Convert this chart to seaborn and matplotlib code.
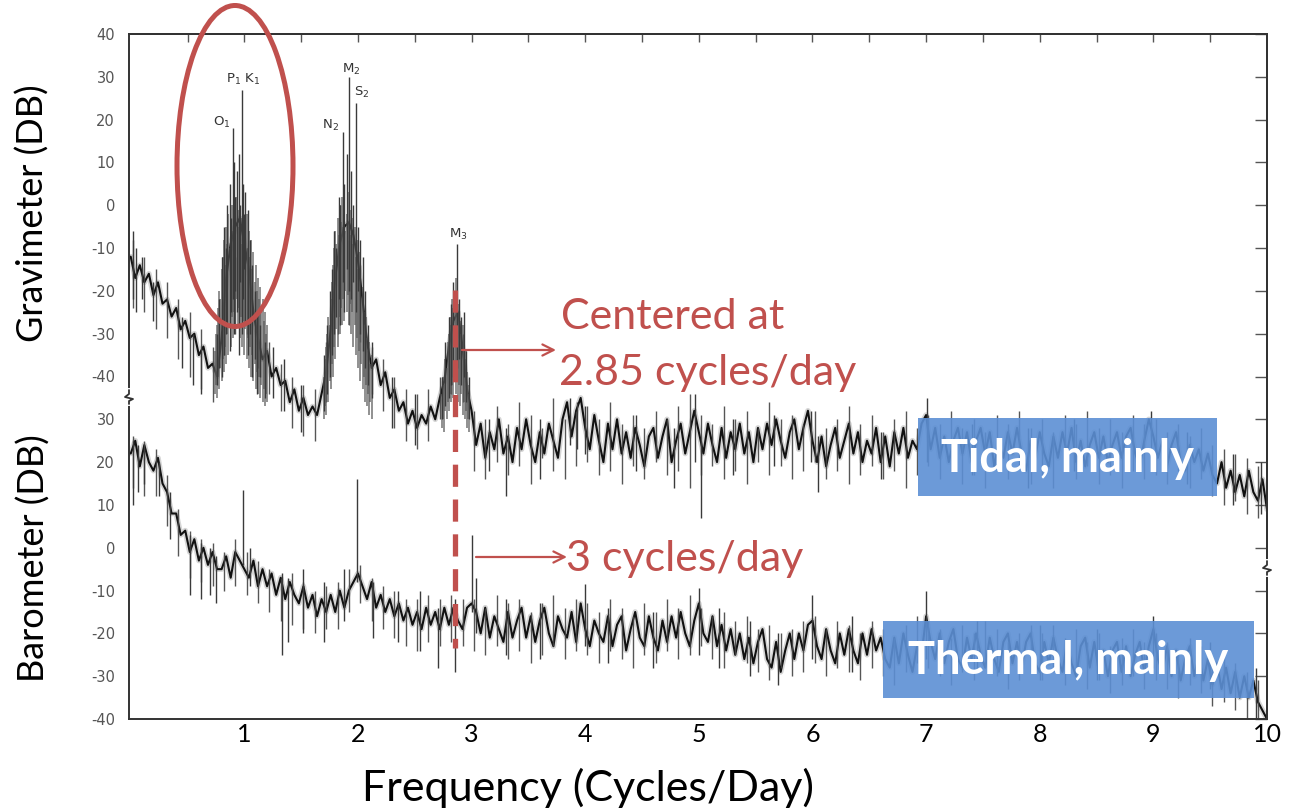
import numpy as np
import pandas as pd
import matplotlib
matplotlib.use("Agg")
import matplotlib.pyplot as plt
from matplotlib.patches import Ellipse, Rectangle
import seaborn as sns

W, H, DPI = 1299, 810, 100

# ---- spectra (dB), sampled every 0.04 cycles/day from 0 to 10 ----
freq_step = 0.04
gravimeter_db = [
    -12, -17, -14, -18, -16, -21, -18, -23, -22, -26,
    -24, -29, -27, -31, -30, -35, -33, -38, -37, -40,
    -31, -17, -9, -5, -3, -9, -15, -25, -31, -36,
    -34, -40, -38, -42, -41, -46, -43, -48, -45, -49,
    -47, -49, -44, -39, -29, -17, -9, -5, -4, -7,
    -13, -22, -32, -38, -36, -42, -39, -45, -43, -48,
    -46, -51, -48, -52, -49, -51, -47, -50, -45, -41,
    -33, -27, -25, -33, -43,
    -48, -56, -51, -59, -53, -57, -50, -58, -54, -60,
    -52, -57, -50, -56, -60, -53, -58, -51, -55, -59,
    -50, -46, -54, -48, -45, -52, -57, -49, -55, -60,
    -51, -57, -50, -58, -53, -59, -52, -56, -61, -54,
    -52, -59, -54, -50, -60, -55, -51, -58, -53, -48,
    -53, -58, -51, -56, -60, -52, -59, -53, -57, -51,
    -58, -53, -60, -52, -57, -51, -56, -50, -55, -59,
    -53, -50, -57, -52, -48, -55, -60, -54, -61, -56,
    -52, -59, -55, -51, -58, -53, -60, -55, -58, -52,
    -60, -54, -61, -53, -58, -52, -59, -55, -57, -51,
    -49, -57, -52, -59, -54, -60, -55, -52, -58, -53,
    -60, -55, -52, -58, -53, -61, -55, -59, -53, -58,
    -52, -58, -62, -55, -59, -53, -58, -61, -54, -59,
    -53, -58, -52, -60, -55, -61, -56, -53, -59, -54,
    -60, -56, -53, -59, -54, -52, -58, -61, -55, -50,
    -54, -59, -55, -61, -56, -53, -60, -62, -56, -60,
    -57, -62, -58, -63, -65, -60, -66, -62, -67, -63,
    -68, -62, -67, -69, -64, -71,
]
barometer_db = [
    22, 25, 19, 24, 20, 18, 21, 15, 13, 8,
    8, 3, 4, -1, 2, -3, 0, -4, -1, -5,
    -5, -2, -7, -1, -3, -5, -7, -3, -9, -5,
    -9, -6, -11, -7, -12, -8, -11, -13, -9, -14,
    -11, -16, -12, -15, -11, -15, -10, -14, -10, -8,
    -6, -9, -12, -8, -14, -11, -15, -12, -16, -13,
    -17, -14, -18, -15, -19, -14, -18, -15, -19, -14,
    -18, -14, -17, -19, -14, -13,
    -15, -20, -14, -21, -16, -19, -22, -15, -21, -17,
    -14, -21, -16, -22, -17, -14, -20, -23, -16, -19,
    -21, -15, -22, -13, -19, -23, -17, -20, -22, -16,
    -23, -18, -16, -24, -19, -15, -21, -23, -16, -21,
    -24, -17, -22, -16, -21, -15, -20, -23, -17, -13,
    -20, -22, -16, -23, -18, -24, -19, -25, -20, -26,
    -21, -27, -22, -19, -26, -28, -22, -29, -24, -20,
    -26, -20, -24, -18, -17, -23, -26, -19, -24, -27,
    -20, -25, -19, -24, -27, -20, -25, -19, -24, -21,
    -26, -28, -21, -27, -20, -25, -29, -23, -25, -16,
    -22, -26, -20, -27, -22, -19, -26, -28, -21, -26,
    -20, -25, -28, -21, -26, -29, -22, -20, -27, -22,
    -28, -22, -20, -27, -29, -22, -27, -21, -26, -29,
    -22, -27, -30, -23, -21, -28, -22, -29, -24, -30,
    -24, -22, -29, -23, -30, -25, -22, -29, -23, -19,
    -26, -29, -23, -30, -24, -31, -26, -23, -30, -25,
    -31, -26, -32, -27, -33, -28, -34, -29, -35, -30,
    -35, -31, -36, -38, -40,
]

# ---- scatter of the recorder trace: one stroke every 0.1 c/d from 0.02 ----
stroke_start, stroke_step = 0.02, 0.1
grav_stroke_lo = [
    -24, -25, -29, -31, -36, -40, -43, -46, -35, -30,
    -30, -38, -44, -48, -52, -54, -55, -46, -30, -28,
    -32, -44, -48, -52, -55, -57, -55, -50, -44, -46,
    -62, -64, -60, -63, -61, -65, -59, -62, -64, -61,
    -60, -63, -62, -65, -61, -64, -60, -63, -62, -66,
    -63, -61, -64, -62, -65, -60, -63, -61, -64, -62,
    -60, -64, -62, -65, -63, -61, -64, -62, -66, -63,
    -61, -64, -62, -65, -63, -66, -62, -64, -61, -65,
    -63, -66, -62, -64, -61, -65, -63, -66, -62, -64,
    -63, -65, -62, -66, -64, -68, -70, -69, -72, -73,
]
grav_stroke_hi = [
    -8, -12, -15, -18, -22, -25, -29, -33, -20, -12,
    -10, -25, -32, -37, -40, -42, -43, -32, -10, -8,
    -14, -33, -36, -40, -43, -44, -43, -40, -28, -30,
    -48, -50, -47, -51, -46, -49, -52, -45, -50, -48,
    -47, -50, -46, -51, -49, -52, -48, -50, -47, -44,
    -49, -51, -47, -50, -48, -52, -46, -50, -49, -51,
    -48, -52, -50, -47, -51, -49, -53, -50, -48, -52,
    -49, -51, -48, -52, -50, -53, -49, -51, -48, -52,
    -50, -53, -49, -51, -48, -52, -50, -53, -49, -51,
    -50, -53, -51, -54, -52, -56, -57, -58, -59, -61,
]
baro_stroke_lo = [
    14, 12, 12, 5, -2, -7, -8, -9, -10, -9,
    -11, -13, -15, -17, -18, -19, -20, -19, -19, -15,
    -13, -17, -19, -21, -23, -24, -22, -23, -22, -23,
    -24, -25, -23, -26, -24, -27, -25, -23, -26, -24,
    -25, -27, -24, -26, -28, -25, -27, -24, -26, -25,
    -23, -26, -28, -25, -27, -29, -31, -28, -30, -29,
    -27, -30, -28, -29, -31, -28, -30, -32, -29, -27,
    -28, -30, -32, -29, -31, -28, -30, -33, -31, -29,
    -31, -29, -32, -30, -33, -31, -34, -32, -30, -33,
    -31, -33, -35, -32, -34, -37, -36, -38, -40, -41,
]
baro_stroke_hi = [
    26, 25, 23, 17, 9, 4, 2, 1, -1, 2,
    -1, -3, -5, -7, -6, -8, -10, -9, -8, -5,
    -4, -7, -9, -10, -12, -12, -11, -12, -11, -12,
    -12, -14, -11, -13, -12, -15, -13, -11, -14, -12,
    -13, -15, -12, -14, -16, -13, -15, -12, -14, -11,
    -14, -16, -15, -17, -16, -19, -18, -20, -19, -17,
    -16, -19, -17, -18, -20, -17, -19, -21, -18, -16,
    -17, -19, -21, -18, -20, -17, -19, -22, -20, -18,
    -20, -18, -21, -19, -22, -20, -23, -21, -19, -22,
    -20, -22, -24, -21, -23, -26, -25, -27, -29, -31,
]

# ---- individual spectral spikes: frequency, lower dB, upper dB ----
grav_spike_freq = [0.02, 0.05, 0.10, 0.20, 0.45, 0.55, 0.62,
                   0.76, 0.78, 0.80, 0.82, 0.84, 0.85, 0.87, 0.88, 0.903, 0.91, 0.92,
                   0.935, 0.95, 0.965, 0.977, 0.99, 1.00, 1.01, 1.03, 1.05, 1.07,
                   1.09, 1.11, 1.14, 1.18, 1.25, 1.35, 1.50,
                   1.70, 1.73, 1.75, 1.77, 1.79, 1.81, 1.83, 1.845, 1.866, 1.88,
                   1.90, 1.919, 1.94, 1.96, 1.983, 2.00, 2.02, 2.04, 2.06, 2.09, 2.12,
                   2.30, 2.50,
                   2.74, 2.77, 2.80, 2.82, 2.84, 2.87, 2.89, 2.91, 2.93, 2.95, 2.98,
                   3.15, 3.30, 3.60, 3.87, 3.93, 4.00, 4.45, 4.78, 4.97, 5.02, 5.30,
                   5.66, 5.99, 6.05, 6.60, 7.01, 7.40, 7.90, 8.30, 8.98, 9.30, 9.70, 9.95]
grav_spike_lo = [-22, -25, -22, -27, -38, -42, -44,
                 -42, -38, -40, -35, -30, -28, -34, -25, -22, -30, -20,
                 -25, -35, -18, -30, -22, -15, -28, -35, -30, -40,
                 -36, -44, -40, -45, -45, -48, -53,
                 -48, -44, -40, -35, -30, -26, -22, -28, -18, -25,
                 -15, -20, -22, -18, -25, -20, -30, -34, -38, -42, -45,
                 -52, -56,
                 -50, -47, -45, -42, -40, -38, -36, -42, -40, -46, -50,
                 -62, -68, -64, -56, -57, -58, -62, -66, -60, -73, -63,
                 -61, -60, -67, -64, -60, -63, -66, -62, -62, -65, -70, -72]
grav_spike_hi = [-6, -10, -12, -18, -26, -30, -34,
                 -30, -22, -12, -5, -10, 0, 5, -3, 18, 10, 2,
                 8, 12, 0, 27, 5, -2, 3, -1, -8, -14,
                 -20, -25, -28, -32, -33, -36, -42,
                 -35, -28, -20, -15, -6, -10, 2, 0, 17, 5,
                 12, 30, 8, 0, 24, -5, -8, -12, -20, -28, -32,
                 -40, -44,
                 -40, -32, -26, -23, -18, -9, -22, -26, -25, -34, -40,
                 -50, -52, -50, -45, -46, -47, -49, -52, -44, -55, -50,
                 -49, -48, -54, -53, -45, -51, -52, -50, -48, -53, -58, -60]

# dense line texture inside the three tidal bands (one stroke every 0.01 c/d)
band_step = 0.01
diurnal_start, semidiurnal_start, terdiurnal_start = 0.74, 1.70, 2.74
diurnal_hi = [-34, -30, -28, -24, -20, -22, -15, -12, -8, -14,
              -5, -9, -2, -10, -4, 0, -6, -3, -8, 2,
              -5, -1, -7, -3, -9, 1, -4, -8, -2, -10,
              -6, -12, -8, -15, -11, -18, -14, -20, -17, -22,
              -19, -25, -22, -27, -25, -30, -28]
diurnal_lo = [-44, -42, -45, -40, -43, -38, -41, -36, -39, -33,
              -37, -30, -35, -28, -33, -26, -31, -25, -30, -22,
              -28, -24, -31, -26, -33, -27, -35, -29, -36, -31,
              -38, -33, -40, -35, -41, -37, -43, -39, -44, -40,
              -45, -42, -46, -43, -47, -44, -46]
semidiurnal_hi = [-40, -36, -33, -30, -26, -28, -22, -18, -14, -10,
                  -6, -9, -3, -7, 0, -4, 2, -5, -1, -6,
                  -2, 3, -4, -1, -7, -3, -9, -5, -12, -8,
                  -15, -11, -18, -22, -19, -25, -28, -26, -31, -34,
                  -32, -37, -35]
semidiurnal_lo = [-50, -47, -49, -44, -46, -41, -43, -37, -40, -33,
                  -36, -29, -33, -26, -30, -24, -28, -22, -27, -20,
                  -25, -21, -28, -23, -30, -25, -33, -28, -35, -31,
                  -38, -34, -41, -37, -43, -40, -46, -42, -47, -44,
                  -49, -46, -50]
terdiurnal_hi = [-44, -40, -42, -36, -38, -32, -30, -26, -28, -22,
                 -24, -20, -17, -21, -25, -23, -27, -30, -28, -33,
                 -36, -34, -39, -42, -44]
terdiurnal_lo = [-52, -50, -53, -48, -50, -46, -48, -44, -46, -42,
                 -45, -41, -44, -40, -46, -42, -47, -44, -49, -46,
                 -50, -48, -52, -50, -53]

baro_spike_freq = [0.02, 0.06, 0.12, 0.25, 0.35, 0.52, 0.62, 0.70, 0.75,
                   0.985, 1.05, 1.33, 1.38, 1.52, 1.70, 1.88, 1.99, 2.13, 2.35,
                   2.55, 2.70, 2.85, 3.00, 3.04, 3.30, 3.60, 4.00, 4.20, 4.60,
                   5.00, 5.18, 5.45, 5.70, 6.00, 6.35, 7.00, 7.45, 8.00, 8.50,
                   9.00, 9.50, 9.90]
baro_spike_lo = [10, 13, 15, 12, 2, -11, -12, -11, -13,
                 -4, -9, -25, -22, -20, -22, -17, -8, -21, -22,
                 -24, -28, -29, -15, -20, -25, -26, -23, -27, -28,
                 -25, -28, -30, -32, -26, -29, -26, -29, -31, -31,
                 -28, -33, -40]
baro_spike_hi = [25, 24, 23, 20, 13, 3, 1, 0, -2,
                 13.5, 0, -6, -7, -5, -8, -5, 16, -8, -10,
                 -10, -14, -12, 3, -7, -12, -13, -8.5, -14, -15,
                 -9.5, -14, -17, -20, -11, -16, -10, -17, -18, -19,
                 -16, -22, -28]

# the gravimeter record is stacked 80 dB above the barometer record
GRAV_OFFSET = 80
grav_ticks = [40, 30, 20, 10, 0, -10, -20, -30, -40]
baro_ticks = [30, 20, 10, 0, -10, -20, -30, -40]
x_ticks = [1, 2, 3, 4, 5, 6, 7, 8, 9, 10]

RED = "#C0504D"
BOX = (0.36, 0.56, 0.83)

sns.set_style("white")
plt.rcParams["font.family"] = ["Lato", "DejaVu Sans"]

fig = plt.figure(figsize=(W / DPI, H / DPI), dpi=DPI)
ax = fig.add_axes([129 / W, 1 - 719 / H, (1267 - 129) / W, (719 - 34) / H])


def fpos(x, y):
    """pixel position -> figure fraction"""
    return x / W, 1 - y / H


freq = np.round(np.arange(len(gravimeter_db)) * freq_step, 2)
spectra = pd.DataFrame({
    "freq": np.concatenate([freq, freq]),
    "level": np.concatenate([np.array(gravimeter_db) + GRAV_OFFSET,
                             np.array(barometer_db)]),
    "record": ["Gravimeter"] * len(freq) + ["Barometer"] * len(freq),
})
# soft halo (ink spread of the chart recorder) under a dark core trace
sns.lineplot(data=spectra, x="freq", y="level", hue="record",
             palette={"Gravimeter": "#8a8a8a", "Barometer": "#8a8a8a"},
             estimator=None, lw=4.0, alpha=0.35, legend=False, ax=ax)
sns.lineplot(data=spectra, x="freq", y="level", hue="record",
             palette={"Gravimeter": "#111111", "Barometer": "#111111"},
             estimator=None, lw=1.5, legend=False, ax=ax)

stroke_x = stroke_start + np.arange(len(grav_stroke_lo)) * stroke_step
ax.vlines(stroke_x, np.array(grav_stroke_lo) + GRAV_OFFSET,
          np.array(grav_stroke_hi) + GRAV_OFFSET, color="#444444", lw=1.0, alpha=0.9)
ax.vlines(stroke_x, baro_stroke_lo, baro_stroke_hi, color="#444444", lw=1.0, alpha=0.9)

for start, hi, lo in [(diurnal_start, diurnal_hi, diurnal_lo),
                      (semidiurnal_start, semidiurnal_hi, semidiurnal_lo),
                      (terdiurnal_start, terdiurnal_hi, terdiurnal_lo)]:
    xs = start + np.arange(len(hi)) * band_step
    ax.vlines(xs, np.array(lo) + GRAV_OFFSET, np.array(hi) + GRAV_OFFSET,
              color="#5a5a5a", lw=1.1, alpha=0.85)

ax.vlines(grav_spike_freq, np.array(grav_spike_lo) + GRAV_OFFSET,
          np.array(grav_spike_hi) + GRAV_OFFSET, color="#3a3a3a", lw=1.0)
ax.vlines(baro_spike_freq, baro_spike_lo, baro_spike_hi, color="#3a3a3a", lw=1.0)

ax.set_xlim(-0.015, 10.0)
ax.set_ylim(-40, 120)
ax.set_xlabel("")
ax.set_ylabel("")

# x axis
ax.set_xticks(x_ticks)
ax.set_xticklabels([str(t) for t in x_ticks])
ax.set_xticks(np.arange(0.5, 10, 1.0), minor=True)
ax.tick_params(axis="x", which="both", direction="in", length=5, width=1.0,
               color="#555555", pad=3, labelsize=18, labelcolor="black")

# y axis: two stacked dB scales
ytick_pos = [t + GRAV_OFFSET for t in grav_ticks] + baro_ticks
ytick_lab = [str(t) for t in grav_ticks] + [str(t) for t in baro_ticks]
ax.set_yticks(ytick_pos)
ax.set_yticklabels(ytick_lab, family="DejaVu Sans")
ax.tick_params(axis="y", direction="out", length=9, width=1.0, color="#777777",
               pad=1, labelsize=10.5, labelcolor="#555555")

right = ax.secondary_yaxis("right")
right.set_yticks(ytick_pos)
right.set_yticklabels([])
right.tick_params(direction="in", length=9, width=1.0, color="#555555")
top = ax.secondary_xaxis("top")
top.set_xticks(np.arange(0.5, 10, 0.5))
top.set_xticklabels([])
top.tick_params(direction="in", length=6, width=1.0, color="#555555")

for sp in list(ax.spines.values()) + [right.spines["right"], top.spines["top"]]:
    sp.set_color("#333333")
    sp.set_linewidth(1.4)

# axis breaks
for bx, by in [(129, 397), (1267, 568)]:
    xs, ys = zip(*[fpos(bx, by - 7), fpos(bx, by + 7)])
    fig.add_artist(plt.Line2D(xs, ys, color="white", lw=3))
    pts = [fpos(bx, by - 7), fpos(bx, by - 3), fpos(bx - 4, by), fpos(bx + 4, by + 2),
           fpos(bx, by + 4), fpos(bx, by + 7)]
    xs, ys = zip(*pts)
    fig.add_artist(plt.Line2D(xs, ys, color="#333333", lw=1.3))

# tidal constituent labels
for txt, x, y in [(r"P$_1$ K$_1$", 243, 79), (r"O$_1$", 222, 122), (r"M$_2$", 351, 69),
                  (r"S$_2$", 362, 92), (r"N$_2$", 330, 125), (r"M$_3$", 458, 234)]:
    fig.text(*fpos(x, y), txt, ha="center", va="center", fontsize=9.5,
             color="#333333", family="DejaVu Sans")

# axis titles
fig.text(*fpos(33, 213), "Gravimeter (DB)", rotation=90, ha="center", va="center",
         fontsize=26, color="black")
fig.text(*fpos(34, 558), "Barometer (DB)", rotation=90, ha="center", va="center",
         fontsize=26, color="black")
fig.text(*fpos(588, 788), "Frequency (Cycles/Day)", ha="center", va="center",
         fontsize=31, color="black")

# diurnal band highlight
fig.add_artist(Ellipse(fpos(235, 166), 116 / W, 321 / H, transform=fig.transFigure,
                       fill=False, edgecolor=RED, lw=3.6))

# M3 centre line
ax.plot([2.85, 2.85], [60.2, -23.5], color=RED, lw=3.8, dashes=(4.2, 2.4),
        solid_capstyle="butt", dash_capstyle="butt")

for (x0, x1, y) in [(462, 556, 350), (476, 567, 557)]:
    ax.annotate("", xy=fpos(x1, y), xytext=fpos(x0, y), xycoords="figure fraction",
                textcoords="figure fraction", annotation_clip=False,
                arrowprops=dict(arrowstyle="->,head_length=0.8,head_width=0.4",
                                color=RED, lw=1.6, shrinkA=0, shrinkB=0))

fig.text(*fpos(561, 329), "Centered at", ha="left", va="baseline", fontsize=31, color=RED)
fig.text(*fpos(559, 385), "2.85 cycles/day", ha="left", va="baseline", fontsize=31,
         color=RED)
fig.text(*fpos(566, 571), "3 cycles/day", ha="left", va="baseline", fontsize=31,
         color=RED)

# regime boxes
for (x0, y0, x1, y1, label) in [(918, 418, 1217, 496, "Tidal, mainly"),
                                (883, 621, 1254, 698, "Thermal, mainly")]:
    fig.add_artist(Rectangle(fpos(x0, y1), (x1 - x0) / W, (y1 - y0) / H,
                             transform=fig.transFigure, facecolor=BOX, alpha=0.9,
                             edgecolor="none"))
    fig.text(*fpos((x0 + x1) / 2, (y0 + y1) / 2 + 2), label, ha="center", va="center",
             fontsize=32.5, fontweight="bold", color="white")

fig.savefig("out.png", dpi=DPI)
